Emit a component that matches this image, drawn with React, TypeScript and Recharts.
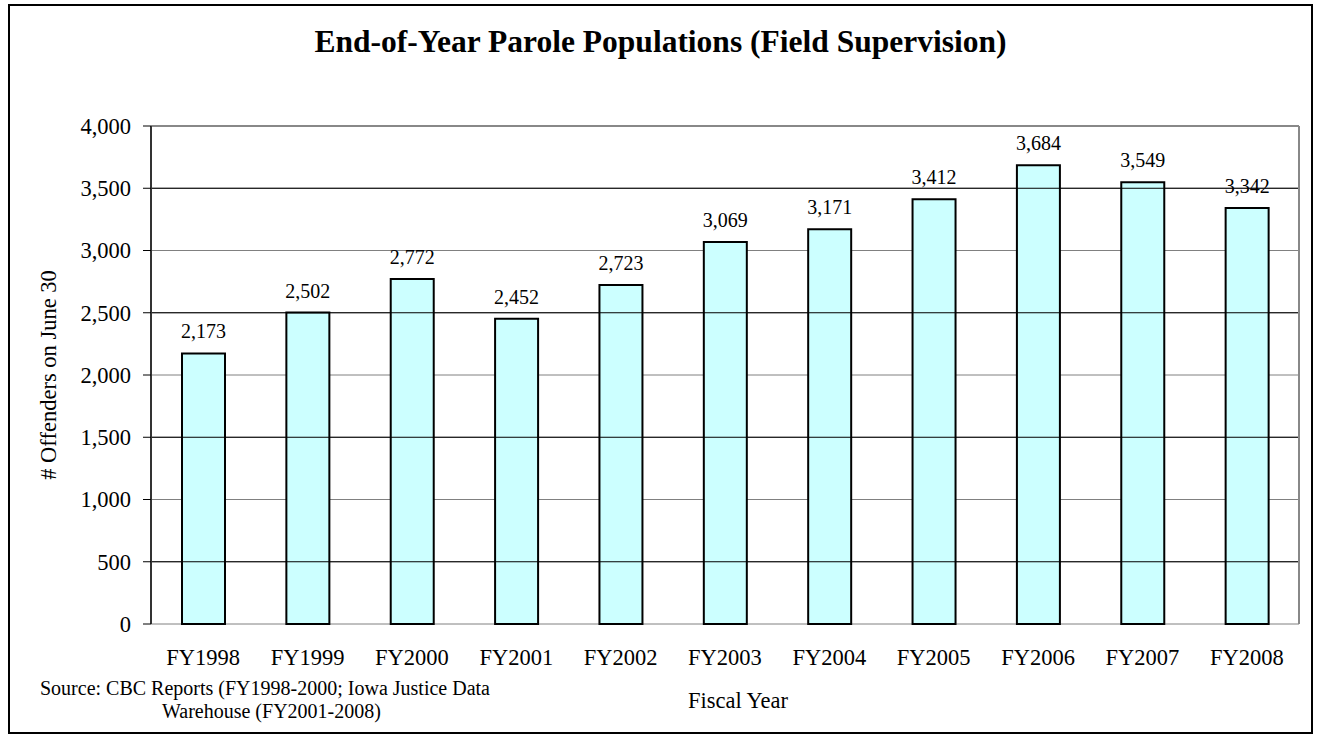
import { BarChart, Bar, XAxis, YAxis, CartesianGrid, LabelList, ReferenceLine } from 'recharts';

const years = ['FY1998', 'FY1999', 'FY2000', 'FY2001', 'FY2002', 'FY2003', 'FY2004', 'FY2005', 'FY2006', 'FY2007', 'FY2008'];
const offenders = [2173, 2502, 2772, 2452, 2723, 3069, 3171, 3412, 3684, 3549, 3342];
const yTicks = [0, 500, 1000, 1500, 2000, 2500, 3000, 3500, 4000];
const darkGridValues = [500, 1500, 2500, 3500];
const boundaryTicks = [0, 1, 2, 3, 4, 5, 6, 7, 8, 9, 10, 11];

const data = years.map((year, i) => ({ year, offenders: offenders[i] }));

const serif = '"Liberation Serif", "Times New Roman", serif';

const formatNum = (v: number) => v.toLocaleString('en-US');

const YearTick = ({ x, y, payload }: any) => (
  <text x={x} y={y} dy={41} textAnchor="middle" fontFamily={serif} fontSize={22.5} fill="#000">
    {payload.value}
  </text>
);

export default function App() {
  return (
    <div style={{ position: 'absolute', left: 0, top: 0, width: 1319, height: 738, fontFamily: serif }}>
      <div
        style={{
          position: 'absolute',
          left: 8,
          top: 4,
          width: 1301,
          height: 726,
          border: '2px solid #000',
        }}
      />
      <div
        style={{
          position: 'absolute',
          left: 0,
          width: 1319,
          top: 25,
          textAlign: 'center',
          fontSize: 31.5,
          fontWeight: 'bold',
          lineHeight: '34px',
          paddingLeft: 1,
        }}
      >
        End-of-Year Parole Populations (Field Supervision)
      </div>
      <div style={{ position: 'absolute', left: 40, top: 677, fontSize: 20, lineHeight: '23px', whiteSpace: 'nowrap' }}>
        Source: CBC Reports (FY1998-2000; Iowa Justice Data
        <br />
        <span style={{ paddingLeft: 122 }}>Warehouse (FY2001-2008)</span>
      </div>
      <div style={{ position: 'absolute', left: 0, top: 0 }}>
        <BarChart
          width={1319}
          height={738}
          data={data}
          margin={{ top: 126, right: 18, left: 31, bottom: 24 }}
          barSize={43}
        >
          <CartesianGrid vertical={false} stroke="#808080" yAxisId="left" />
          <XAxis
            xAxisId="edge"
            type="number"
            domain={[0, 11]}
            ticks={boundaryTicks}
            tick={false}
            tickSize={8}
            height={0}
            axisLine={{ stroke: '#000', strokeWidth: 1.5 }}
            tickLine={{ stroke: '#000' }}
          />
          <XAxis
            xAxisId="cat"
            dataKey="year"
            height={90}
            axisLine={false}
            tickLine={false}
            tickSize={0}
            tickMargin={0}
            interval={0}
            tick={<YearTick />}
            label={{
              value: 'Fiscal Year',
              position: 'insideBottom',
              offset: 6,
              dx: 13,
              fontSize: 22.5,
              fontFamily: serif,
              fill: '#000',
            }}
          />
          <YAxis
            yAxisId="left"
            width={120}
            domain={[0, 4000]}
            ticks={yTicks}
            tickFormatter={formatNum}
            tickSize={8}
            tickMargin={12}
            tick={{ fontSize: 22.5, fontFamily: serif, fill: '#000' }}
            axisLine={{ stroke: '#333', strokeWidth: 2 }}
            tickLine={{ stroke: '#000' }}
            label={{
              value: '# Offenders on June 30',
              angle: -90,
              position: 'insideLeft',
              offset: 17,
              fontSize: 22.5,
              fontFamily: serif,
              fill: '#000',
              style: { textAnchor: 'middle' },
            }}
          />
          <YAxis
            yAxisId="right"
            orientation="right"
            width={2}
            domain={[0, 4000]}
            ticks={yTicks}
            tick={false}
            tickLine={false}
            axisLine={{ stroke: '#888', strokeWidth: 2 }}
          />
          {darkGridValues.map((v) => (
            <ReferenceLine key={v} y={v} yAxisId="left" xAxisId="cat" stroke="#000" />
          ))}
          <ReferenceLine y={4000} yAxisId="left" xAxisId="cat" stroke="#888" strokeWidth={2} />
          <Bar
            dataKey="offenders"
            xAxisId="cat"
            yAxisId="left"
            fill="#CCFFFF"
            stroke="#000"
            strokeWidth={2}
            isAnimationActive={false}
          >
            <LabelList
              dataKey="offenders"
              position="top"
              offset={15}
              formatter={(v: any) => formatNum(Number(v))}
              fontSize={20}
              fontFamily={serif}
              fill="#000"
            />
          </Bar>
        </BarChart>
      </div>
    </div>
  );
}
